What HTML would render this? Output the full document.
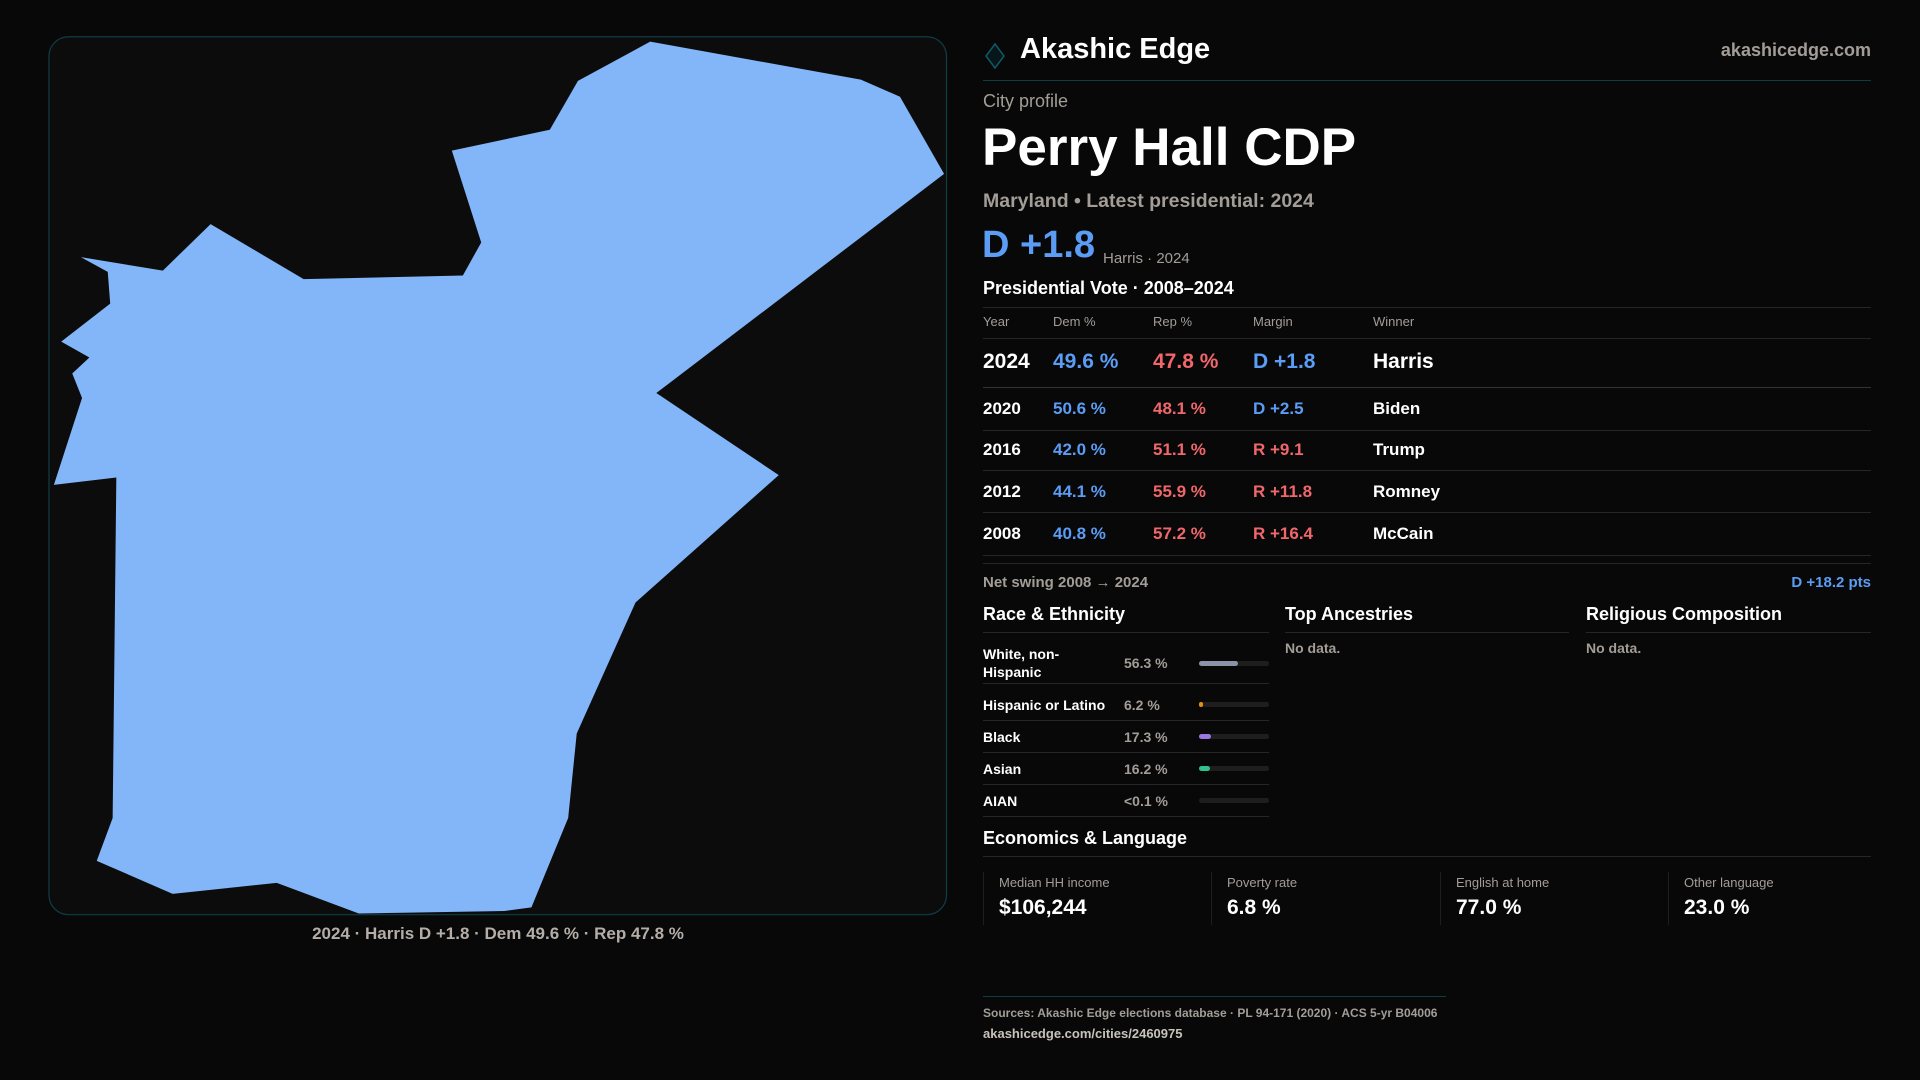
<!DOCTYPE html>
<html><head><meta charset="utf-8"><style>
*{margin:0;padding:0;box-sizing:border-box}
body{width:1920px;height:1080px;background:#080808;font-family:"Liberation Sans",sans-serif;color:#fff;position:relative;overflow:hidden}
.a{position:absolute;white-space:nowrap}
.g{color:#a39d97}
.b{color:#5b9cf5}.r{color:#f0676b}
.ln{position:absolute;height:1px;background:#262626}
.h{font-weight:bold;font-size:18px}
.bar{position:absolute;left:1199px;width:70px;height:5px;border-radius:3px;background:#1e1e1e}
.bar i{position:absolute;left:0;top:0;height:5px;border-radius:3px}
.card{position:absolute;top:872px;height:53px;width:224px;border-left:1px solid #1e1e1e}
.card .l{position:absolute;left:15px;top:3px;font-size:13px;color:#a39d97}
.card .v{position:absolute;left:15px;top:24px;font-size:21px;font-weight:bold}
</style></head><body>
<svg class="a" style="left:0;top:0" width="1920" height="1080" viewBox="0 0 1568 882">
<rect x="40" y="30" width="733" height="717" rx="16" fill="#0d0c0d" stroke="#0f3d44" stroke-width="1"/>
<polygon fill="#82b6f9" points="531,34 703,65 735,79 771,142 536,321 636,388 519,492 471,599 464,668 434,741 412,744 293,746 226,721 141,730 79,703 92,668 95,390 44,396 67,325 59,305 73,292 50,279 90,248 88,222 66,210 133,221 172,183 248,228 378,225 393,198 369,123 449,106 472,66"/>
</svg>
<div class="a g" style="left:49px;width:898px;text-align:center;top:924px;font-size:17px;font-weight:bold;color:#b5aea8">2024 · Harris D +1.8 · Dem 49.6 % · Rep 47.8 %</div>

<svg class="a" style="left:982px;top:40px" width="26" height="30"><polygon points="13,4 22,16 13,28 4,16" fill="#07161a" stroke="#0f5a63" stroke-width="1.5"/></svg>
<div class="a" style="left:1020px;top:33px;font-size:29px;font-weight:bold">Akashic Edge</div>
<div class="a g" style="right:49px;top:40px;font-size:18px;font-weight:bold">akashicedge.com</div>
<div class="ln" style="left:983px;width:888px;top:80px;background:#0f3d44"></div>
<div class="a g" style="left:983px;top:91px;font-size:18px">City profile</div>
<div class="a" style="left:982px;top:117px;font-size:53px;font-weight:bold">Perry Hall CDP</div>
<div class="a g" style="left:983px;top:190px;font-size:19.5px;font-weight:bold">Maryland • Latest presidential: 2024</div>
<div class="a b" style="left:982px;top:224px;font-size:38px;font-weight:bold">D +1.8</div>
<div class="a g" style="left:1103px;top:250px;font-size:15px">Harris · 2024</div>
<div class="a" style="left:983px;top:278px;font-size:18px;font-weight:bold">Presidential Vote · 2008–2024</div>
<div class="ln" style="left:983px;width:888px;top:307px"></div>
<div>
<div class="a g" style="left:983px;top:314px;font-size:13px">Year</div>
<div class="a g" style="left:1053px;top:314px;font-size:13px">Dem %</div>
<div class="a g" style="left:1153px;top:314px;font-size:13px">Rep %</div>
<div class="a g" style="left:1253px;top:314px;font-size:13px">Margin</div>
<div class="a g" style="left:1373px;top:314px;font-size:13px">Winner</div>
</div>
<div class="ln" style="left:983px;width:888px;top:338px"></div>
<div style="font-size:21px;font-weight:bold">
<div class="a" style="left:983px;top:350px">2024</div><div class="a b" style="left:1053px;top:350px">49.6 %</div><div class="a r" style="left:1153px;top:350px">47.8 %</div><div class="a b" style="left:1253px;top:350px">D +1.8</div><div class="a" style="left:1373px;top:350px">Harris</div></div>
<div class="ln" style="left:983px;width:888px;top:387px;background:#333"></div>
<div style="font-size:17px;font-weight:bold">
<div class="a" style="left:983px;top:399px">2020</div><div class="a b" style="left:1053px;top:399px">50.6 %</div><div class="a r" style="left:1153px;top:399px">48.1 %</div><div class="a b" style="left:1253px;top:399px">D +2.5</div><div class="a" style="left:1373px;top:399px">Biden</div></div>
<div class="ln" style="left:983px;width:888px;top:430px"></div>
<div style="font-size:17px;font-weight:bold">
<div class="a" style="left:983px;top:440px">2016</div><div class="a b" style="left:1053px;top:440px">42.0 %</div><div class="a r" style="left:1153px;top:440px">51.1 %</div><div class="a r" style="left:1253px;top:440px">R +9.1</div><div class="a" style="left:1373px;top:440px">Trump</div></div>
<div class="ln" style="left:983px;width:888px;top:470px"></div>
<div style="font-size:17px;font-weight:bold">
<div class="a" style="left:983px;top:482px">2012</div><div class="a b" style="left:1053px;top:482px">44.1 %</div><div class="a r" style="left:1153px;top:482px">55.9 %</div><div class="a r" style="left:1253px;top:482px">R +11.8</div><div class="a" style="left:1373px;top:482px">Romney</div></div>
<div class="ln" style="left:983px;width:888px;top:512px"></div>
<div style="font-size:17px;font-weight:bold">
<div class="a" style="left:983px;top:524px">2008</div><div class="a b" style="left:1053px;top:524px">40.8 %</div><div class="a r" style="left:1153px;top:524px">57.2 %</div><div class="a r" style="left:1253px;top:524px">R +16.4</div><div class="a" style="left:1373px;top:524px">McCain</div></div>
<div class="ln" style="left:983px;width:888px;top:555px"></div>
<div class="ln" style="left:983px;width:888px;top:563px"></div>
<div class="a g" style="left:983px;top:574px;font-size:15px;font-weight:bold">Net swing 2008 → 2024</div>
<div class="a b" style="right:49px;top:574px;font-size:15px;font-weight:bold">D +18.2 pts</div>

<div class="a h" style="left:983px;top:604px">Race &amp; Ethnicity</div>
<div class="ln" style="left:983px;width:286px;top:632px"></div>
<div class="a h" style="left:1285px;top:604px">Top Ancestries</div>
<div class="ln" style="left:1285px;width:284px;top:632px"></div>
<div class="a g" style="left:1285px;top:640px;font-size:14px;font-weight:bold">No data.</div>
<div class="a h" style="left:1586px;top:604px">Religious Composition</div>
<div class="ln" style="left:1586px;width:285px;top:632px"></div>
<div class="a g" style="left:1586px;top:640px;font-size:14px;font-weight:bold">No data.</div>

<div style="font-size:14px;font-weight:bold">
<div class="a" style="left:983px;top:645px;line-height:18px">White, non-<br>Hispanic</div><div class="a g" style="left:1124px;top:655px">56.3 %</div>
<div class="bar" style="top:661px"><i style="width:39px;background:#8b93a8"></i></div>
<div class="ln" style="left:983px;width:286px;top:683px"></div>
<div class="a" style="left:983px;top:697px">Hispanic or Latino</div><div class="a g" style="left:1124px;top:697px">6.2 %</div>
<div class="bar" style="top:702px"><i style="width:4px;background:#e0900f"></i></div>
<div class="ln" style="left:983px;width:286px;top:720px"></div>
<div class="a" style="left:983px;top:729px">Black</div><div class="a g" style="left:1124px;top:729px">17.3 %</div>
<div class="bar" style="top:734px"><i style="width:12px;background:#9878e0"></i></div>
<div class="ln" style="left:983px;width:286px;top:752px"></div>
<div class="a" style="left:983px;top:761px">Asian</div><div class="a g" style="left:1124px;top:761px">16.2 %</div>
<div class="bar" style="top:766px"><i style="width:11px;background:#2fc28a"></i></div>
<div class="ln" style="left:983px;width:286px;top:784px"></div>
<div class="a" style="left:983px;top:793px">AIAN</div><div class="a g" style="left:1124px;top:793px">&lt;0.1 %</div>
<div class="bar" style="top:798px"></div>
<div class="ln" style="left:983px;width:286px;top:816px"></div>
</div>

<div class="a h" style="left:983px;top:828px">Economics &amp; Language</div>
<div class="ln" style="left:983px;width:888px;top:856px"></div>
<div class="card" style="left:983px"><div class="l">Median HH income</div><div class="v">$106,244</div></div>
<div class="card" style="left:1211px"><div class="l">Poverty rate</div><div class="v">6.8 %</div></div>
<div class="card" style="left:1440px"><div class="l">English at home</div><div class="v">77.0 %</div></div>
<div class="card" style="left:1668px"><div class="l">Other language</div><div class="v">23.0 %</div></div>

<div class="ln" style="left:983px;width:463px;top:996px;background:#0f3d44"></div>
<div class="a g" style="left:983px;top:1006px;font-size:12px;font-weight:bold">Sources: Akashic Edge elections database · PL 94-171 (2020) · ACS 5-yr B04006</div>
<div class="a" style="left:983px;top:1026px;font-size:13px;font-weight:bold;color:#c8c2bc">akashicedge.com/cities/2460975</div>
</body></html>
